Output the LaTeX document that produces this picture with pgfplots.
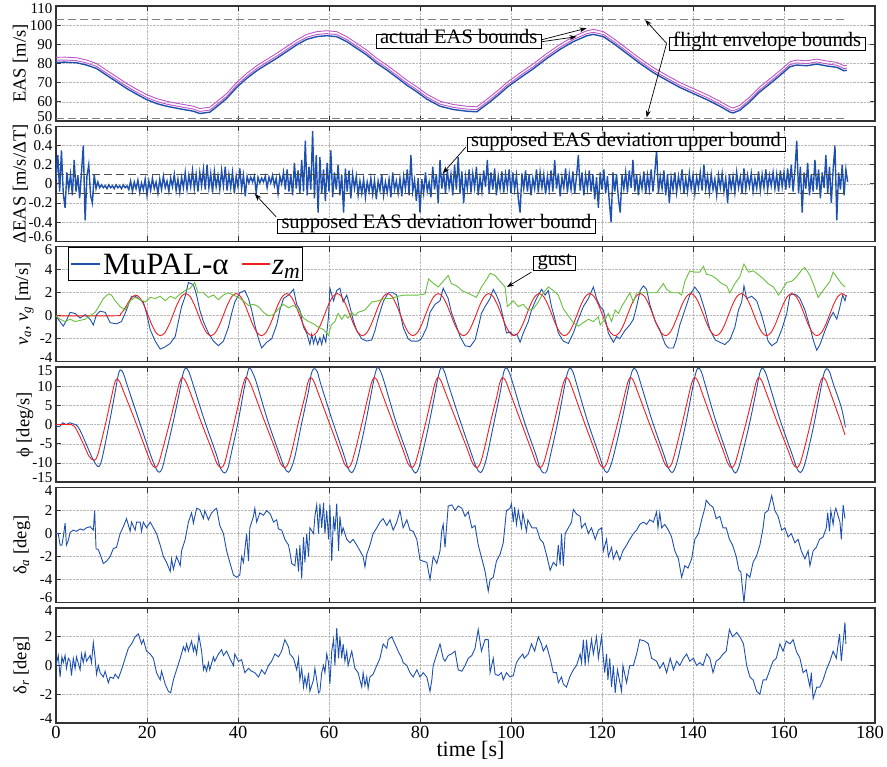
\documentclass[border=0pt]{standalone}
\usepackage{fontspec}
\setmainfont{Liberation Serif}
\usepackage{pgfplots}
\usepackage{pgfplotstable}
\pgfplotsset{compat=1.18}
\usetikzlibrary{arrows.meta}
\definecolor{mblue}{RGB}{30,80,175}
\definecolor{mred}{RGB}{240,30,30}
\definecolor{mgreen}{RGB}{105,190,60}
\definecolor{mmag}{RGB}{190,85,200}
\newcommand{\fs}[1]{\fontsize{#1}{#1}\selectfont}
\newcommand{\dn}[1]{\raisebox{-3pt}[\height][\depth]{#1}}
\newcommand{\up}[1]{\raisebox{4.5pt}[\height][\depth]{#1}}

\pgfplotstableread{
t eas lo hi
0 80.6 81.7 83.2
2 80.7 81.8 83.3
4.5 80.4 81.5 83.0
6.7 79.2 80.3 81.8
8.9 77.4 78.5 80.0
11.1 73.9 75.0 76.5
13.3 70.5 71.6 73.1
15.5 67.0 68.1 69.6
17.7 64.0 65.1 66.6
19.9 61.2 62.3 63.8
22.1 59.1 60.2 61.7
24.3 57.7 58.8 60.3
27.3 56.3 57.4 58.9
30.2 55.1 56.2 57.7
31.6 53.9 55.0 56.5
33.8 54.6 55.7 57.2
35.3 57.4 58.5 60.0
37.5 61.7 62.8 64.3
39.7 67.5 68.6 70.1
41.9 72.2 73.3 74.8
44.1 76.2 77.3 78.8
46.3 79.5 80.6 82.1
48.5 82.7 83.8 85.3
50.7 86.2 87.3 88.8
52.9 89.7 90.8 92.3
55.1 92.6 93.7 95.2
57.3 94.0 95.1 96.6
59.5 94.5 95.6 97.1
61.7 94.0 95.1 96.6
63.9 91.4 92.5 94.0
66.1 87.9 89.0 90.5
68.3 84.4 85.5 87.0
70.5 80.1 81.2 82.7
72.7 76.6 77.7 79.2
74.9 72.7 73.8 75.3
77.1 68.7 69.8 71.3
79.3 65.2 66.3 67.8
81.5 61.4 62.5 64.0
84.4 57.7 58.8 60.3
87.3 56.0 57.1 58.6
90.3 55.1 56.2 57.7
92.5 54.8 55.9 57.4
95.4 60.0 61.1 62.6
97.6 64.3 65.4 66.9
99.1 67.5 68.6 70.1
102 72.5 73.6 75.1
105 77.4 78.5 80.0
107.8 82.5 83.6 85.1
110.8 87.4 88.5 90.0
113.7 91.4 92.5 94.0
116.6 94.4 95.5 97.0
118.1 95.2 96.3 97.8
120.3 94.0 95.1 96.6
122.5 90.5 91.6 93.1
125.4 85.3 86.4 87.9
128.3 80.1 81.2 82.7
131.3 75.2 76.3 77.8
134.2 71.3 72.4 73.9
137.1 67.5 68.6 70.1
140.1 64.3 65.4 66.9
143 61.2 62.3 63.8
145.9 57.7 58.8 60.3
148.1 54.7 55.8 57.3
148.8 54.2 55.3 56.8
150.3 55.6 56.7 58.2
152.5 60.0 61.1 62.6
154.7 65.2 66.3 67.8
157 69.6 70.7 72.2
159.2 73.9 75.0 76.5
161.3 78.3 79.4 80.9
162.8 79.2 80.3 81.8
165 78.8 79.9 81.4
167.2 79.7 80.8 82.3
169.4 78.7 79.8 81.3
171.6 78.0 79.1 80.6
173.2 76.2 77.3 78.8
173.8 76.5 77.6 79.1
}\easdata

\tikzset{
  ann/.style={draw=black, fill=white, line width=0.8pt, font=\fs{20.5}, inner xsep=4pt, inner ysep=2.5pt, text height=0.68em, text depth=0.2em},
  arr/.style={-{Stealth[length=7pt,width=5pt]}, line width=0.7pt, black},
}
\pgfplotsset{
  panel/.style={
    scale only axis, width=819pt, height=115pt,
    xmin=0, xmax=180, xtick={0,20,...,180}, xticklabels={},
    tick pos=both, tick align=inside, major tick length=5pt,
    grid=major, major grid style={gray!55, densely dotted, line width=0.6pt},
    axis line style={black!80, line width=1.4pt},
    every tick/.style={black!80, line width=0.8pt},
    yticklabel style={font=\fs{15}, inner ysep=0pt},
    /pgf/number format/assume math mode=true,
  },
  ylab/.style={ylabel style={at={(axis description cs:#1,0.5)}, anchor=center, font=\fs{18.5}}},
}

\begin{document}
\begin{tikzpicture}
\useasboundingbox (0,0) rectangle (887pt,767pt);

% ---------------- Panel 1: EAS
\begin{axis}[panel, at={(56pt,646pt)}, anchor=south west,
  ymin=50, ymax=110, ytick={50,60,...,110},
  yticklabels={\up{50},60,70,80,90,100,\dn{110}},
  ylab=-0.0433, ylabel={EAS [m/s]}]
\addplot[gray, line width=1.1pt, dash pattern=on 8pt off 4pt] coordinates {(0,102.8) (173.6,102.8)};
\addplot[gray, line width=1.1pt, dash pattern=on 8pt off 4pt] coordinates {(0,51.5) (173.6,51.5)};
\addplot[mmag, line width=0.9pt] table[x=t, y=hi] {\easdata};
\addplot[mmag, line width=0.9pt] table[x=t, y=lo] {\easdata};
\addplot[mblue, line width=1.4pt] table[x=t, y=eas] {\easdata};
\node[ann] at (axis cs:88.5,91.5) {actual EAS bounds};
\draw[arr] (axis cs:106.6,92.3) -- (axis cs:116.6,98.4);
\draw[arr] (axis cs:106.6,91.3) -- (axis cs:114.4,94.0);
\node[ann] at (axis cs:156.3,90.2) {flight envelope bounds};
\draw[arr] (axis cs:134.2,90.5) -- (axis cs:129.5,102.7);
\draw[arr] (axis cs:134.2,90.5) -- (axis cs:129.8,51.9);
\end{axis}

% ---------------- Panel 2: Delta EAS
\begin{axis}[panel, at={(56pt,525.6pt)}, anchor=south west,
  ymin=-0.6, ymax=0.6, ytick={-0.6,-0.4,...,0.61},
  yticklabels={\up{-0.6},-0.4,-0.2,0,0.2,0.4,\dn{0.6}},
  ylab=-0.0433, ylabel={ΔEAS [m/s/ΔT]}]
\addplot[mblue, line width=1.4pt] coordinates {
(0,0.05)(0.4,0.30)(0.8,-0.08)(1.2,0.35)(1.6,-0.10)(2.0,-0.25)(2.4,0.12)(2.8,-0.06)(3.2,0.10)(3.6,-0.12)
(4.0,0.25)(4.4,-0.08)(4.8,0.09)(5.2,-0.15)(5.6,0.12)(6.0,0.40)(6.4,-0.38)(6.8,0.08)(7.2,0.20)(7.6,-0.12)
(8.0,-0.20)(8.4,0.10)(8.8,-0.05)(9.2,0.02)(9.6,-0.04)(10.0,-0.01)(10.4,-0.04)(10.8,-0.02)(11.2,-0.05)(11.6,-0.01)
(12.0,-0.04)(12.4,-0.02)(12.8,-0.05)(13.2,-0.01)(13.6,-0.04)(14.0,-0.02)(14.4,-0.05)(14.8,-0.01)(15.2,-0.04)(15.6,-0.02)
(16.0,-0.06)(16.4,0.03)(16.8,-0.08)(17.2,0.02)(17.6,-0.05)(18.0,0.04)(18.4,-0.09)(18.8,0.01)(19.2,-0.06)(19.6,0.05)
(20.0,-0.12)(20.4,0.03)(20.8,-0.07)(21.2,0.06)(21.6,-0.05)(22.0,0.02)(22.4,-0.10)(22.8,0.05)(23.2,-0.06)(23.6,0.08)
(24.0,-0.04)(24.4,0.03)(24.8,-0.08)(25.2,0.06)(25.6,-0.03)(26.0,0.10)(26.4,-0.07)(26.8,0.05)(27.2,-0.09)(27.6,0.07)
(28.0,-0.04)(28.4,0.12)(28.8,-0.06)(29.2,0.09)(29.6,-0.03)(30.0,0.14)(30.4,-0.05)(30.8,0.10)(31.2,-0.08)(31.6,0.12)
(32.0,-0.02)(32.4,0.15)(32.8,-0.06)(33.2,0.20)(33.6,-0.04)(34.0,0.11)(34.4,-0.09)(34.8,0.13)(35.2,-0.03)(35.6,0.09)
(36.0,-0.06)(36.4,0.14)(36.8,-0.02)(37.2,0.18)(37.6,-0.07)(38.0,0.10)(38.4,-0.04)(38.8,0.12)(39.2,-0.10)(39.6,0.08)
(40.0,-0.03)(40.4,0.16)(40.8,-0.05)(41.2,0.09)(41.6,-0.13)(42.0,0.08)(42.4,0.01)(42.8,0.07)(43.2,0.02)(43.6,0.08)
(44.0,-0.09)(44.4,0.07)(44.8,0.01)(45.2,0.06)(45.6,0.02)(46.0,0.08)(46.4,-0.04)(46.8,0.07)(47.2,0.01)(47.6,0.09)
(48.0,-0.02)(48.4,0.06)(48.8,-0.10)(49.2,0.08)(49.6,0.00)(50.0,0.12)(50.4,-0.06)(50.8,0.15)(51.2,-0.08)(51.6,0.10)
(52.0,-0.12)(52.4,0.22)(52.8,-0.05)(53.2,0.14)(53.6,-0.10)(54.0,0.25)(54.4,-0.08)(54.8,0.45)(55.2,-0.12)(55.6,0.18)
(56.0,-0.06)(56.4,0.55)(56.8,-0.15)(57.2,0.30)(57.6,-0.30)(58.0,0.28)(58.4,-0.10)(58.8,0.15)(59.2,-0.18)(59.6,0.22)
(60.0,-0.08)(60.4,0.35)(60.8,-0.14)(61.2,0.12)(61.6,-0.06)(62.0,0.20)(62.4,-0.12)(62.8,0.10)(63.2,-0.30)(63.6,0.16)
(64.0,-0.08)(64.4,0.14)(64.8,-0.15)(65.2,0.10)(65.6,-0.05)(66.0,0.08)(66.4,-0.12)(66.8,0.03)(67.2,-0.10)(67.6,0.05)
(68.0,-0.14)(68.4,0.02)(68.8,-0.08)(69.2,0.06)(69.6,-0.11)(70.0,0.04)(70.4,-0.16)(70.8,0.03)(71.2,-0.07)(71.6,0.10)
(72.0,-0.12)(72.4,0.02)(72.8,-0.09)(73.2,0.05)(73.6,-0.14)(74.0,0.12)(74.4,-0.06)(74.8,0.03)(75.2,-0.10)(75.6,0.06)
(76.0,-0.13)(76.4,0.08)(76.8,-0.05)(77.2,0.15)(77.6,-0.12)(78.0,0.30)(78.4,-0.08)(78.8,0.04)(79.2,-0.18)(79.6,0.06)
(80.0,-0.30)(80.4,0.05)(80.8,-0.10)(81.2,0.12)(81.6,-0.08)(82.0,0.02)(82.4,-0.14)(82.8,0.18)(83.2,-0.06)(83.6,0.10)
(84.0,-0.20)(84.4,0.25)(84.8,-0.05)(85.2,0.12)(85.6,-0.10)(86.0,0.15)(86.4,-0.04)(86.8,0.10)(87.2,-0.12)(87.6,0.20)
(88.0,-0.06)(88.4,0.28)(88.8,-0.10)(89.2,0.13)(89.6,-0.20)(90.0,0.08)(90.4,-0.05)(90.8,0.15)(91.2,-0.09)(91.6,0.11)
(92.0,-0.04)(92.4,0.18)(92.8,-0.12)(93.2,0.07)(93.6,-0.08)(94.0,0.14)(94.4,-0.03)(94.8,0.25)(95.2,-0.10)(95.6,0.12)
(96.0,-0.06)(96.4,0.16)(96.8,-0.12)(97.2,0.08)(97.6,-0.05)(98.0,0.13)(98.4,-0.09)(98.8,0.10)(99.2,-0.04)(99.6,0.15)
(100.0,-0.10)(100.4,0.12)(100.8,-0.06)(101.2,0.09)(101.6,-0.15)(102.0,-0.30)(102.4,0.11)(102.8,-0.05)(103.2,0.14)(103.6,-0.08)
(104.0,0.10)(104.4,-0.12)(104.8,0.06)(105.2,-0.05)(105.6,0.15)(106.0,-0.09)(106.4,0.12)(106.8,-0.04)(107.2,0.10)(107.6,-0.11)
(108.0,0.08)(108.4,-0.06)(108.8,0.14)(109.2,-0.08)(109.6,0.25)(110.0,-0.05)(110.4,0.11)(110.8,-0.13)(111.2,0.07)(111.6,-0.04)
(112.0,0.16)(112.4,-0.09)(112.8,0.10)(113.2,-0.06)(113.6,0.13)(114.0,-0.10)(114.4,0.08)(114.8,0.30)(115.2,-0.07)(115.6,0.12)
(116.0,-0.12)(116.4,0.09)(116.8,-0.05)(117.2,0.14)(117.6,-0.08)(118.0,0.10)(118.4,-0.16)(118.8,0.07)(119.2,-0.25)(119.6,0.12)
(120.0,-0.06)(120.4,0.15)(120.8,-0.10)(121.2,0.08)(121.6,-0.18)(122.0,-0.40)(122.4,0.12)(122.8,-0.08)(123.2,0.10)(123.6,-0.15)
(124.0,-0.30)(124.4,0.09)(124.8,-0.05)(125.2,0.12)(125.6,-0.09)(126.0,0.14)(126.4,-0.04)(126.8,0.25)(127.2,-0.08)(127.6,0.10)
(128.0,-0.12)(128.4,0.07)(128.8,-0.05)(129.2,0.13)(129.6,-0.10)(130.0,0.09)(130.4,-0.06)(130.8,0.15)(131.2,-0.08)(131.6,0.12)
(132.0,0.35)(132.4,-0.10)(132.8,0.08)(133.2,-0.05)(133.6,0.14)(134.0,-0.12)(134.4,0.10)(134.8,-0.20)(135.2,0.07)(135.6,-0.06)
(136.0,0.12)(136.4,-0.09)(136.8,0.08)(137.2,-0.04)(137.6,0.15)(138.0,-0.10)(138.4,0.06)(138.8,-0.08)(139.2,0.11)(139.6,-0.05)
(140.0,0.09)(140.4,-0.10)(140.8,0.07)(141.2,-0.04)(141.6,0.12)(142.0,-0.07)(142.4,0.20)(142.8,-0.05)(143.2,0.08)(143.6,-0.09)
(144.0,0.10)(144.4,-0.06)(144.8,0.05)(145.2,-0.12)(145.6,0.09)(146.0,-0.04)(146.4,0.11)(146.8,-0.08)(147.2,0.06)(147.6,-0.20)
(148.0,0.10)(148.4,-0.05)(148.8,0.08)(149.2,-0.09)(149.6,0.12)(150.0,-0.04)(150.4,0.07)(150.8,-0.10)(151.2,0.16)(151.6,-0.06)
(152.0,0.09)(152.4,-0.03)(152.8,0.11)(153.2,-0.08)(153.6,0.06)(154.0,-0.05)(154.4,0.13)(154.8,-0.07)(155.2,0.10)(155.6,-0.04)
(156.0,0.15)(156.4,-0.06)(156.8,0.09)(157.2,-0.02)(157.6,0.12)(158.0,-0.05)(158.4,0.10)(158.8,-0.08)(159.2,0.14)(159.6,-0.03)
(160.0,0.12)(160.4,-0.06)(160.8,0.16)(161.2,-0.04)(161.6,0.20)(162.0,-0.08)(162.4,0.14)(162.8,0.45)(163.2,-0.10)(163.6,0.18)
(164.0,-0.30)(164.4,0.12)(164.8,-0.05)(165.2,0.22)(165.6,-0.12)(166.0,0.10)(166.4,-0.08)(166.8,0.25)(167.2,-0.06)(167.6,0.15)
(168.0,-0.15)(168.4,0.12)(168.8,-0.04)(169.2,0.30)(169.6,-0.10)(170.0,0.18)(170.4,-0.20)(170.8,0.15)(171.2,0.40)(171.6,-0.38)
(172.0,0.12)(172.4,-0.06)(172.8,0.20)(173.2,-0.12)(173.6,0.15)(174.0,0.02)};
\addplot[black!70, line width=1.0pt, dash pattern=on 8pt off 4pt] coordinates {(0,0.1) (173.6,0.1)};
\addplot[black!70, line width=1.0pt, dash pattern=on 8pt off 4pt] coordinates {(0,-0.1) (173.6,-0.1)};
\node[ann] at (axis cs:125.3,0.41) {supposed EAS deviation upper bound};
\draw[arr] (axis cs:90.1,0.385) -- (axis cs:85.0,0.11);
\node[ann] at (axis cs:83.6,-0.44) {supposed EAS deviation lower bound};
\draw[arr] (axis cs:48.4,-0.345) -- (axis cs:43.7,-0.105);
\end{axis}

% ---------------- Panel 3: v_a, v_g
\begin{axis}[panel, at={(56pt,405.2pt)}, anchor=south west,
  ymin=-4, ymax=6, ytick={-4,-2,...,6},
  yticklabels={\up{-4},-2,0,2,4,\dn{6}},
  ylab=-0.0385,
  ylabel={\textit{v}\textsubscript{\textit{a}}, \textit{v}\textsubscript{\textit{g}} [m/s]}]
\addplot[mblue, line width=0.9pt] coordinates {
(0,0)(0.5,-0.3)(1.6,-0.9)(2.3,-0.4)(3.1,0.3)(4.2,0.2)(5.3,-0.2)(6.4,0.1)(7.5,-0.3)(8.2,-0.8)(8.9,0.1)(9.7,0.4)(10.8,0.3)(11.9,-0.6)(13.3,-0.7)(14.4,-0.5)(15.5,0.5)(16.6,1.7)(17.4,1.7)(18.1,1.5)(19.2,1.2)(19.9,0.2)(20.7,-1.2)(21.8,-2.2)(22.9,-2.9)(24.0,-2.7)(25.1,-2.4)(26.2,-1.8)(26.9,-0.5)(27.6,0.8)(28.4,1.7)(29.1,2.9)(30.2,2.7)(30.9,1.8)(31.6,0.5)(32.4,-0.5)(33.5,-1.5)(34.6,-2.2)(35.7,-2.6)(36.8,-2.2)(37.9,-1.0)(38.6,0.2)(39.3,1.2)(40.4,2.0)(41.5,2.2)(42.3,1.5)(43.0,0.5)(43.7,-0.8)(44.5,-2.0)(45.2,-2.8)(46.3,-2.3)(47.4,-2.0)(48.5,-0.8)(49.2,0.5)(50.0,1.5)(51.1,1.8)(52.2,2.3)(52.9,1.0)(53.6,0.5)(54.4,-1.0)(55.1,-1.5)(55.8,-2.5)(56.2,-1.6)(56.6,-2.4)(57.0,-1.8)(57.5,-2.5)(58.0,-1.9)(58.4,-2.5)(58.8,-1.7)(59.3,-2.3)(59.6,-1.2)(59.9,0)(60.2,2.4)(61.0,1.3)(61.7,2.2)(62.4,2.4)(63.1,1.2)(63.9,1.8)(64.6,0.8)(65.4,-0.5)(66.1,-1.3)(67.2,-2.0)(68.3,-2.2)(69.4,-2.1)(70.1,-1.3)(70.8,-0.2)(71.9,1.2)(73.0,2.0)(74.1,2.0)(74.9,1.8)(75.6,0.3)(76.3,-1.0)(77.4,-2.0)(78.1,-2.2)(79.6,-2.2)(80.3,-2.0)(81.5,-1.0)(82.2,0.3)(83.3,1.0)(84.4,1.3)(85.1,2.4)(86.2,1.5)(86.9,0.3)(88.1,-1.0)(88.8,-1.8)(89.9,-2.6)(91.0,-2.7)(92.1,-2.1)(92.8,-1.0)(93.5,0.2)(94.3,0.8)(95.4,1.5)(96.1,2.3)(96.8,1.8)(97.6,1.0)(98.3,-0.2)(99.0,-1.5)(99.8,-1.4)(100.5,-1.7)(101.3,-1.6)(102.0,-2.3)(102.7,-1.5)(103.8,-0.5)(104.5,0.5)(105.6,1.5)(106.7,2.3)(107.5,1.8)(108.2,2.2)(108.9,0.8)(109.6,-0.2)(110.4,-1.5)(111.5,-2.2)(112.6,-2.4)(113.7,-1.5)(114.8,-0.3)(115.9,0.8)(117.0,1.5)(118.1,2.5)(118.8,1.5)(119.6,0.8)(120.3,0.5)(121.4,-1.5)(122.5,-2.3)(123.2,-1.8)(123.9,-2.0)(125.0,-1.3)(126.1,-0.8)(126.9,-0.3)(127.6,0.8)(128.4,2.2)(129.1,2.6)(129.8,2.3)(130.5,1.0)(131.7,-0.5)(132.7,-1.2)(133.9,-2.5)(134.6,-2.8)(135.7,-2.8)(136.4,-2.0)(137.1,-0.8)(138.2,0.5)(139.3,1.8)(140.4,2.5)(141.5,1.9)(142.6,0.5)(143.7,-1.2)(144.9,-2.1)(145.9,-2.3)(147.0,-2.5)(148.1,-2.1)(149.2,-1.0)(150.0,0.5)(150.7,1.2)(151.2,2.6)(151.8,1.5)(152.9,1.7)(154.0,1.3)(155.1,0.0)(155.8,-1.0)(156.5,-2.2)(157.3,-2.6)(158.4,-2.3)(159.5,-1.2)(160.6,0.2)(161.3,1.8)(162.1,1.9)(162.8,1.8)(163.5,1.5)(164.6,0.5)(165.7,-1.0)(166.5,-2.2)(167.2,-3.0)(167.9,-2.5)(169.0,-1.3)(170.1,-0.2)(170.8,0.3)(171.6,-0.3)(172.3,0.8)(172.9,1.8)(173.4,1.3)(173.7,1.8)};
\addplot[mred, line width=0.9pt, smooth] coordinates {
(0,0)(13,0)(14.2,0.15)(15.2,0.7)(16.3,1.4)(17.4,1.8)(18.33,1.6)(19.25,1.0)(20.18,0.1)(21.1,-0.82)(22.03,-1.49)(22.95,-1.73)(23.88,-1.49)(24.8,-0.82)(25.73,0.10)(26.65,1.02)(27.58,1.69)
(28.5,1.93)(29.43,1.69)(30.35,1.02)(31.28,0.10)(32.2,-0.82)(33.13,-1.49)(34.05,-1.73)(34.98,-1.49)(35.9,-0.82)(36.83,0.10)(37.75,1.02)(38.68,1.69)
(39.6,1.93)(40.53,1.69)(41.45,1.02)(42.38,0.10)(43.3,-0.82)(44.23,-1.49)(45.15,-1.73)(46.08,-1.49)(47.0,-0.82)(47.93,0.10)(48.85,1.02)(49.78,1.69)
(50.7,1.93)(51.63,1.69)(52.55,1.02)(53.48,0.10)(54.4,-0.82)(55.33,-1.49)(56.25,-1.73)(57.18,-1.49)(58.1,-0.82)(59.03,0.10)(59.95,1.02)(60.88,1.69)
(61.8,1.93)(62.73,1.69)(63.65,1.02)(64.58,0.10)(65.5,-0.82)(66.43,-1.49)(67.35,-1.73)(68.28,-1.49)(69.2,-0.82)(70.13,0.10)(71.05,1.02)(71.98,1.69)
(72.9,1.93)(73.83,1.69)(74.75,1.02)(75.68,0.10)(76.6,-0.82)(77.53,-1.49)(78.45,-1.73)(79.38,-1.49)(80.3,-0.82)(81.23,0.10)(82.15,1.02)(83.08,1.69)
(84.0,1.93)(84.93,1.69)(85.85,1.02)(86.78,0.10)(87.7,-0.82)(88.63,-1.49)(89.55,-1.73)(90.48,-1.49)(91.4,-0.82)(92.33,0.10)(93.25,1.02)(94.18,1.69)
(95.1,1.93)(96.03,1.69)(96.95,1.02)(97.88,0.10)(98.8,-0.82)(99.73,-1.49)(100.65,-1.73)(101.58,-1.49)(102.5,-0.82)(103.43,0.10)(104.35,1.02)(105.28,1.69)
(106.2,1.93)(107.13,1.69)(108.05,1.02)(108.98,0.10)(109.9,-0.82)(110.83,-1.49)(111.75,-1.73)(112.68,-1.49)(113.6,-0.82)(114.53,0.10)(115.45,1.02)(116.38,1.69)
(117.3,1.93)(118.23,1.69)(119.15,1.02)(120.08,0.10)(121.0,-0.82)(121.93,-1.49)(122.85,-1.73)(123.78,-1.49)(124.7,-0.82)(125.63,0.10)(126.55,1.02)(127.48,1.69)
(128.4,1.93)(129.33,1.69)(130.25,1.02)(131.18,0.10)(132.1,-0.82)(133.03,-1.49)(133.95,-1.73)(134.88,-1.49)(135.8,-0.82)(136.73,0.10)(137.65,1.02)(138.58,1.69)
(139.5,1.93)(140.43,1.69)(141.35,1.02)(142.28,0.10)(143.2,-0.82)(144.13,-1.49)(145.05,-1.73)(145.98,-1.49)(146.9,-0.82)(147.83,0.10)(148.75,1.02)(149.68,1.69)
(150.6,1.93)(151.53,1.69)(152.45,1.02)(153.38,0.10)(154.3,-0.82)(155.23,-1.49)(156.15,-1.73)(157.08,-1.49)(158.0,-0.82)(158.93,0.10)(159.85,1.02)(160.78,1.69)
(161.7,1.93)(162.63,1.69)(163.55,1.02)(164.48,0.10)(165.4,-0.82)(166.33,-1.49)(167.25,-1.73)(168.18,-1.49)(169.1,-0.82)(170.03,0.10)(170.95,1.02)(171.88,1.69)
(172.8,1.93)(173.73,1.69)};
\addplot[mgreen, line width=0.9pt] coordinates {
(0,0)(0.9,-0.3)(2.0,-0.5)(3.1,-0.3)(4.2,-0.5)(5.3,-0.4)(6.4,-0.3)(7.5,0)(8.6,0.3)(9.7,1.0)(10.4,1.5)(11.5,1.9)(12.2,1.8)(13.0,1.3)(14.1,0.8)(15.2,0.5)(16.3,1.3)(17.4,1.6)(18.5,1.4)(19.6,1.2)(20.7,1.6)(21.8,1.5)(22.9,1.7)(24.0,1.3)(25.1,1.7)(26.2,1.5)(27.3,1.9)(28.4,2.2)(29.5,2.4)(30.5,2.9)(31.2,2.0)(32.4,2.0)(33.5,1.6)(34.6,1.8)(35.7,1.4)(36.8,1.8)(37.9,2.0)(39.0,1.8)(40.1,1.6)(41.2,1.3)(42.3,0.9)(43.4,1.0)(44.5,0.8)(45.6,0.3)(46.7,0.0)(47.8,0.1)(48.9,0.6)(50.0,1.0)(51.1,0.7)(52.2,0.9)(53.3,0.5)(54.4,-0.2)(55.5,-0.5)(56.6,-0.7)(57.7,-1.0)(58.8,-1.2)(59.9,-1.7)(60.5,-0.8)(61.3,-0.5)(62.0,0.2)(62.8,-0.3)(63.5,0.1)(64.2,-0.2)(65.0,0.3)(65.7,0.0)(66.4,0.3)(67.9,0.5)(69.4,1.2)(70.8,1.3)(72.3,1.5)(73.7,1.5)(75.2,1.7)(76.6,1.8)(78.1,1.8)(79.6,1.8)(81.1,1.9)(81.9,3.2)(83.0,2.8)(84.0,2.5)(85.1,3.0)(86.2,3.5)(86.9,2.8)(88.1,2.6)(89.2,2.2)(90.3,2.0)(91.4,1.8)(92.4,1.6)(93.5,2.5)(94.7,3.2)(95.4,3.7)(96.5,3.5)(97.6,3.0)(98.7,2.5)(99.2,0.8)(100.5,1.3)(101.6,0.8)(102.7,1.0)(103.8,0.5)(104.9,0.6)(106.0,1.2)(107.1,2.0)(108.2,2.5)(109.3,2.2)(110.4,1.8)(111.5,0.6)(112.6,0.0)(113.7,-0.6)(114.8,-0.9)(115.9,-0.6)(117.0,-0.3)(118.1,-0.5)(119.2,-0.1)(119.6,-0.8)(120.7,-0.3)(121.4,0.2)(122.1,-0.5)(122.9,0.5)(123.6,0.2)(124.3,0.8)(125.4,1.5)(126.1,2.0)(126.9,1.2)(127.6,2.0)(129.1,2.0)(130.5,2.0)(132.0,2.0)(133.5,2.8)(134.2,2.3)(135.3,2.0)(136.8,2.0)(137.5,1.8)(138.2,3.0)(139.3,3.9)(140.4,3.8)(141.5,3.8)(142.3,4.3)(143.0,3.6)(144.1,3.5)(145.2,3.2)(146.3,2.8)(147.4,2.6)(148.1,2.0)(149.2,2.8)(150.3,3.4)(151.2,4.5)(152.2,3.8)(153.3,3.9)(154.3,3.6)(155.5,3.2)(156.5,2.8)(157.7,2.5)(158.8,1.8)(159.5,2.2)(160.6,2.9)(161.7,3.0)(162.8,3.4)(163.9,4.0)(164.6,4.2)(165.7,3.5)(166.8,2.4)(167.5,1.6)(168.6,2.2)(170.1,3.0)(170.8,3.8)(171.9,3.2)(172.6,2.8)(173.4,2.5)};
\node[ann] at (axis cs:109.6,4.55) {gust};
\draw[arr] (axis cs:104.5,3.8) -- (axis cs:99.1,2.5);
% legend box (MuPAL-alpha, z_m)
\draw[black, line width=0.8pt, fill=white] (rel axis cs:0.0147,0.995) rectangle (rel axis cs:0.3004,0.711);
\draw[mblue, line width=1.3pt] (rel axis cs:0.0183,0.85) -- (rel axis cs:0.0537,0.85);
\node[anchor=base west, font=\fs{31}, inner sep=0pt] at (rel axis cs:0.0574,0.755) {MuPAL-α};
\draw[mred, line width=1.3pt] (rel axis cs:0.2271,0.85) -- (rel axis cs:0.2613,0.85);
\node[anchor=base west, font=\fs{31}, inner sep=0pt] at (rel axis cs:0.2637,0.755) {\textit{z}\textsubscript{\textit{m}}};
\end{axis}

% ---------------- Panel 4: phi
\begin{axis}[panel, at={(56pt,284.8pt)}, anchor=south west,
  ymin=-15, ymax=15, ytick={-15,-10,...,15},
  yticklabels={\up{-15},-10,-5,0,5,10,\dn{15}},
  ylab=-0.0378, ylabel={ϕ [deg/s]}]
\addplot[mblue, line width=0.9pt, smooth, tension=0.55] coordinates {
(0,-0.3)(0.8,-0.5)(1.5,0.5)(2.2,0.0)(3.0,0.5)(3.8,0.2)(4.4,0.0)(5.3,-1.5)(6.8,-5.5)(8.1,-9.0)(9.2,-10.9)(9.8,-10.2)(10.5,-6.8)(11.7,0.3)(13.0,8.5)(13.6,12.5)(14.1,14.3)
(14.8,13.4)(15.6,10.5)(18.2,1.2)(20.7,-7.6)(21.8,-11.0)(22.6,-12.4)
(23.3,-11.5)(24.1,-7.8)(25.7,0.4)(27.2,8.9)(27.9,13.2)(28.5,14.8)
(29.2,13.8)(30.1,10.6)(32.6,1.2)(35.2,-7.6)(36.2,-11.5)(37.1,-12.6)
(37.8,-11.3)(38.5,-7.6)(39.9,0.0)(41.3,9.1)(42.0,13.0)(42.5,14.9)
(43.2,13.6)(44.1,10.8)(46.6,0.8)(49.2,-8.0)(50.2,-11.2)(51.1,-12.4)
(51.8,-11.0)(52.6,-7.8)(54.0,0.4)(55.5,8.8)(56.1,13.2)(56.7,14.6)
(57.4,13.9)(58.2,10.6)(60.7,1.2)(63.2,-7.6)(64.2,-11.4)(65.0,-12.5)
(65.7,-11.2)(66.5,-7.9)(68.0,0.2)(69.4,8.9)(70.1,13.1)(70.7,15.0)
(71.4,13.7)(72.2,10.9)(74.7,0.8)(77.2,-7.7)(78.2,-11.3)(79.0,-12.6)
(79.7,-11.4)(80.5,-7.7)(82.0,0.3)(83.4,8.8)(84.1,13.0)(84.7,15.0)
(85.4,13.8)(86.2,10.6)(88.8,1.1)(91.4,-7.9)(92.4,-11.2)(93.3,-12.5)
(94.0,-11.2)(94.8,-7.8)(96.2,0.2)(97.7,8.9)(98.3,13.2)(98.9,14.9)
(99.6,13.7)(100.4,10.8)(102.9,0.9)(105.4,-7.6)(106.4,-11.4)(107.2,-12.6)
(107.9,-12.0)(108.7,-7.8)(110.2,0.2)(111.6,9.0)(112.3,13.0)(112.9,14.8)
(113.6,13.8)(114.4,10.7)(116.8,1.0)(119.3,-7.7)(120.3,-11.3)(121.1,-12.5)
(121.8,-11.0)(122.6,-7.8)(124.2,0.3)(125.7,8.9)(126.4,13.1)(127.0,14.7)
(127.7,13.8)(128.5,10.8)(131.0,1.1)(133.6,-7.8)(134.6,-11.3)(135.4,-12.5)
(136.1,-11.2)(136.9,-7.8)(138.4,0.2)(139.8,8.9)(140.5,13.0)(141.1,14.8)
(141.8,13.9)(142.6,10.8)(145.0,1.0)(147.5,-7.8)(148.5,-11.2)(149.3,-12.6)
(150.0,-11.3)(150.8,-7.8)(152.4,0.2)(153.9,8.8)(154.6,13.1)(155.2,14.8)
(155.9,13.7)(156.7,10.8)(159.2,1.0)(161.8,-7.8)(162.8,-11.3)(163.6,-12.5)
(164.3,-11.2)(165.1,-7.8)(166.6,0.2)(168.0,8.9)(168.7,13.0)(169.3,14.6)
(170.0,13.8)(170.8,10.8)(172.6,4.5)(173.5,-0.7)};
\addplot[mred, line width=0.9pt, smooth, tension=0.55] coordinates {
(0,0)(3.4,0)(4.5,-1.3)(6.0,-5.0)(7.3,-8.3)(8.4,-9.3)
(9.0,-8.4)(9.7,-5.6)(10.9,0.3)(12.2,7.3)(12.8,10.5)(13.3,11.9)
(14.0,11.2)(14.8,8.8)(17.4,1.0)(19.9,-7.0)(21.0,-10.2)(21.8,-11.2)
(22.5,-10.2)(23.3,-7.0)(24.9,0.2)(26.4,7.4)(27.1,10.8)(27.7,12.3)
(28.4,11.5)(29.3,9.0)(31.8,1.0)(34.4,-7.0)(35.4,-10.2)(36.3,-11.2)
(37.0,-10.2)(37.7,-7.0)(39.1,0.2)(40.5,7.4)(41.2,10.8)(41.7,12.3)
(42.4,11.5)(43.3,9.0)(45.8,1.0)(48.4,-7.0)(49.4,-10.2)(50.3,-11.2)
(51.0,-10.2)(51.8,-7.0)(53.2,0.2)(54.7,7.4)(55.3,10.8)(55.9,12.3)
(56.6,11.5)(57.4,9.0)(59.9,1.0)(62.4,-7.0)(63.4,-10.2)(64.2,-11.2)
(64.9,-10.2)(65.7,-7.0)(67.2,0.2)(68.6,7.4)(69.3,10.8)(69.9,12.3)
(70.6,11.5)(71.4,9.0)(73.9,1.0)(76.4,-7.0)(77.4,-10.2)(78.2,-11.2)
(78.9,-10.2)(79.7,-7.0)(81.2,0.2)(82.6,7.4)(83.3,10.8)(83.9,12.3)
(84.6,11.5)(85.4,9.0)(88.0,1.0)(90.6,-7.0)(91.6,-10.2)(92.5,-11.2)
(93.2,-10.2)(94.0,-7.0)(95.4,0.2)(96.9,7.4)(97.5,10.8)(98.1,12.3)
(98.8,11.5)(99.6,9.0)(102.1,1.0)(104.6,-7.0)(105.6,-10.2)(106.4,-11.2)
(107.1,-10.2)(107.9,-7.0)(109.4,0.2)(110.8,7.4)(111.5,10.8)(112.1,12.3)
(112.8,11.5)(113.6,9.0)(116.0,1.0)(118.5,-7.0)(119.5,-10.2)(120.3,-11.2)
(121.0,-10.2)(121.8,-7.0)(123.4,0.2)(124.9,7.4)(125.6,10.8)(126.2,12.3)
(126.9,11.5)(127.7,9.0)(130.2,1.0)(132.8,-7.0)(133.8,-10.2)(134.6,-11.2)
(135.3,-10.2)(136.1,-7.0)(137.6,0.2)(139.0,7.4)(139.7,10.8)(140.3,12.3)
(141.0,11.5)(141.8,9.0)(144.2,1.0)(146.7,-7.0)(147.7,-10.2)(148.5,-11.2)
(149.2,-10.2)(150.0,-7.0)(151.6,0.2)(153.1,7.4)(153.8,10.8)(154.4,12.3)
(155.1,11.5)(155.9,9.0)(158.4,1.0)(161.0,-7.0)(162.0,-10.2)(162.8,-11.2)
(163.5,-10.2)(164.3,-7.0)(165.8,0.2)(167.2,7.4)(167.9,10.8)(168.5,12.3)
(169.2,11.5)(170.0,9.0)(172.4,1.0)(173.4,-2.7)};
\end{axis}

% ---------------- Panel 5: delta_a
\begin{axis}[panel, at={(56pt,164.4pt)}, anchor=south west,
  ymin=-6, ymax=4, ytick={-6,-4,...,4},
  yticklabels={\up{-6},-4,-2,0,2,\dn{4}},
  ylab=-0.0415,
  ylabel={δ\textsubscript{\textit{a}} [deg]}]
\addplot[mblue, line width=0.9pt] coordinates {
(0,0)(0.5,0)(0.9,-1.0)(1.3,-1.0)(1.6,-0.3)(2.0,0.9)(2.3,-1.0)(2.7,-0.6)(3.1,0.1)(3.8,0.3)(4.5,0.2)(5.3,0.4)(6.0,0.3)(6.7,0.5)(7.5,0.6)(8.2,0.3)(8.5,2.0)(8.8,-1.3)(9.3,-1.4)(9.7,-1.8)(10.4,-2.6)(11.1,-2.4)(11.9,-2.0)(12.6,-1.3)(13.3,-1.2)(14.1,0.0)(14.8,0.6)(15.5,1.3)(16.3,0.2)(16.6,1.0)(17.4,0.3)(17.7,1.0)(18.5,1.0)(18.8,0.2)(19.2,1.0)(19.9,0.5)(20.7,1.0)(21.4,0.5)(22.1,0.0)(22.9,-1.0)(23.6,-2.0)(24.3,-2.5)(25.1,-3.3)(25.4,-2.2)(25.8,-3.1)(26.5,-2.0)(27.3,-2.8)(27.6,-1.5)(28.4,-0.5)(29.1,1.0)(29.8,1.8)(30.2,0.9)(30.9,2.2)(31.6,2.1)(32.4,1.3)(32.7,2.0)(33.5,1.2)(34.2,1.8)(34.9,2.1)(35.3,2.2)(36.0,0.7)(36.8,0.0)(37.5,-1.5)(38.2,-2.5)(39.0,-3.6)(39.7,-3.8)(40.4,-3.6)(40.8,-2.0)(41.2,-2.5)(41.9,0.0)(42.3,-2.4)(42.6,0.5)(43.4,1.5)(43.7,2.2)(44.1,1.0)(44.8,1.8)(45.6,1.6)(46.3,2.0)(47.1,1.7)(47.8,1.0)(48.5,1.2)(48.9,0.4)(49.6,0.3)(50.3,-0.5)(51.1,-1.0)(51.4,-1.6)(51.8,-2.6)(52.5,-2.8)(52.9,-1.3)(53.3,-3.3)(53.6,-1.0)(54.0,-3.9)(54.4,-0.3)(54.7,-2.5)(55.1,0.0)(55.5,-2.0)(55.8,0.5)(56.6,0.0)(56.9,1.5)(57.3,2.5)(57.7,0.0)(58.0,2.6)(58.4,0.5)(58.8,2.7)(59.1,0.0)(59.5,2.0)(59.9,-0.5)(60.2,2.5)(60.6,-2.4)(61.0,1.5)(61.3,0.2)(61.7,2.6)(62.1,-1.5)(62.4,1.5)(62.8,0.0)(63.1,0.5)(63.9,-0.5)(64.6,-0.8)(65.3,-0.5)(66.1,-1.0)(66.8,-1.5)(67.5,-2.0)(67.9,-2.9)(68.3,-1.8)(69.0,-1.0)(69.7,0.0)(70.5,0.5)(71.2,1.0)(71.9,1.3)(72.7,0.7)(73.4,1.2)(74.1,0.3)(74.9,1.0)(75.6,2.0)(76.3,0.5)(77.1,1.2)(77.8,0.3)(78.5,0.2)(79.3,-0.5)(80.0,-2.3)(80.7,-2.4)(81.5,-2.5)(82.2,-4.0)(82.9,-2.0)(83.7,-2.6)(84.4,-1.5)(84.8,0.3)(85.1,0.8)(85.5,-1.2)(86.2,2.4)(87.0,2.5)(87.7,2.0)(88.4,2.4)(89.2,2.2)(89.9,1.5)(90.6,1.9)(91.4,0.5)(92.1,0.7)(92.8,-1.0)(93.6,-2.2)(94.3,-3.3)(95.0,-5.0)(95.4,-4.0)(96.1,-3.8)(96.8,-2.4)(97.6,-1.8)(98.3,-0.8)(99.0,2.0)(99.8,2.2)(100.1,2.6)(100.5,1.0)(100.8,2.3)(101.2,0.8)(101.6,2.0)(102.3,0.5)(102.6,1.8)(103.4,0.2)(103.7,1.2)(104.6,0.5)(105.6,0.5)(106.4,-0.5)(107.1,-0.8)(107.9,-2.0)(108.6,-3.2)(109.3,-2.5)(110.0,-2.8)(110.4,-1.0)(110.8,-2.7)(111.1,0.0)(111.5,-2.8)(111.9,0.0)(112.6,0.5)(113.3,1.0)(113.7,2.1)(114.4,1.7)(115.2,1.5)(115.5,0.5)(116.3,0.9)(117.0,0.0)(117.7,0.5)(118.5,-0.5)(119.2,0.3)(119.9,0.5)(120.3,-1.5)(121.0,-0.5)(121.4,-2.0)(122.1,-1.2)(122.5,-2.2)(123.2,-1.5)(123.9,-2.3)(124.6,-1.5)(125.4,-1.0)(126.1,-0.5)(126.9,0.0)(127.6,0.3)(128.3,0.8)(129.1,1.0)(129.8,0.8)(130.5,1.2)(131.3,1.0)(132.0,1.9)(132.3,0.5)(132.7,1.8)(133.1,0.5)(133.8,0.8)(134.6,0.3)(135.3,-0.3)(136.0,-1.5)(136.8,-2.2)(137.5,-3.8)(138.2,-2.8)(138.9,-3.0)(139.7,-2.2)(140.4,-0.5)(141.2,0.0)(141.9,1.2)(142.6,2.2)(142.9,2.9)(143.7,2.5)(144.4,2.3)(145.1,1.3)(145.9,1.5)(146.6,0.5)(147.3,0.5)(148.0,-0.5)(148.7,-1.0)(149.5,-2.0)(150.1,-3.2)(150.5,-3.3)(151.2,-6.0)(151.8,-3.5)(152.5,-3.8)(153.2,-2.5)(153.9,-2.0)(154.7,-1.0)(155.4,0.5)(155.8,1.8)(156.5,2.0)(157.3,3.3)(158.0,2.0)(158.7,1.5)(159.5,0.3)(160.2,0.5)(160.9,-0.3)(161.6,0.0)(162.4,-0.8)(163.1,-0.5)(163.8,-1.5)(164.6,-2.2)(165.3,-1.5)(165.7,-2.8)(166.4,-1.5)(167.1,-1.2)(167.8,-0.5)(168.6,-0.3)(169.3,0.5)(169.6,1.8)(170.0,0.2)(170.3,2.0)(170.8,0.8)(171.1,1.8)(171.4,2.2)(172.3,1.0)(172.6,-0.5)(173.0,2.5)(173.4,1.3)};
\end{axis}

% ---------------- Panel 6: delta_r
\begin{axis}[panel, at={(56pt,44pt)}, anchor=south west,
  ymin=-4, ymax=4, ytick={-4,-2,...,4},
  yticklabels={\up{-4},-2,0,2,\dn{4}},
  ylab=-0.0415,
  ylabel={δ\textsubscript{\textit{r}} [deg]},
  xticklabels={0,20,40,60,80,100,120,140,160,{\kern-10pt 180}},
  xticklabel style={font=\fs{18.5}},
  xlabel={time [s]},
  xlabel style={at={(axis description cs:0.5,0)}, anchor=center, yshift=-27pt, xshift=5pt, font=\fs{22}}]
\addplot[mblue, line width=0.9pt] coordinates {
(0,0)(0.5,0.7)(0.9,-0.8)(1.3,0.6)(1.6,0.2)(2.0,0.7)(2.3,-0.2)(2.7,0.5)(3.1,0.3)(3.4,-0.7)(3.8,0.5)(4.2,-0.2)(4.5,0.6)(5.3,-0.3)(5.6,0.8)(6.0,0.2)(6.4,0.9)(6.7,0.3)(7.5,0.7)(7.8,0.2)(8.2,1.6)(8.6,0.5)(8.9,-0.6)(9.3,0.0)(9.7,-0.5)(10.4,-0.8)(10.8,-0.4)(11.5,-1.2)(11.9,-0.8)(12.6,-0.9)(13.0,-0.6)(13.7,-0.9)(14.4,-0.3)(15.2,0.5)(15.9,1.2)(16.6,1.5)(17.4,2.0)(18.1,2.2)(18.8,1.5)(19.2,1.8)(19.9,1.0)(20.7,0.8)(21.4,0.5)(22.1,-0.5)(22.9,-1.0)(23.2,-0.4)(24.0,-1.3)(24.7,-1.8)(25.2,-1.9)(25.8,-1.0)(26.5,-0.3)(27.3,0.5)(28.0,1.3)(28.4,1.0)(28.7,1.5)(29.1,1.0)(29.8,1.7)(30.2,1.0)(30.5,1.4)(30.9,0.8)(31.4,2.1)(32.0,1.0)(32.4,-0.3)(32.7,0.0)(33.1,-0.4)(33.5,0.2)(33.8,-0.3)(34.6,0.6)(34.9,0.3)(35.7,0.8)(36.4,1.1)(36.8,0.7)(37.5,1.0)(38.2,0.5)(39.0,0.0)(39.3,0.8)(40.1,0.3)(40.8,0.4)(41.5,-0.5)(42.3,-0.2)(43.0,-0.4)(43.7,-0.5)(44.5,-0.8)(45.2,-0.3)(45.9,-0.6)(46.7,0.0)(47.4,0.3)(48.1,0.8)(48.9,0.6)(49.6,1.0)(50.3,1.8)(51.1,1.3)(51.4,0.8)(52.2,0.5)(52.9,-0.3)(53.3,0.5)(53.6,-1.0)(54.0,-0.2)(54.4,-1.5)(54.7,-0.8)(55.1,-1.5)(55.5,-0.5)(55.8,-1.8)(56.6,-1.0)(56.9,-0.2)(57.3,-1.0)(57.7,-1.9)(58.0,-1.8)(58.4,-0.5)(58.8,0.0)(59.1,-0.5)(59.5,0.8)(59.9,0.2)(60.2,-1.3)(60.6,1.0)(61.0,1.8)(61.3,0.0)(61.7,2.6)(62.1,0.5)(62.4,2.0)(62.8,0.5)(63.1,1.5)(63.5,0.3)(63.9,1.0)(64.2,0.0)(65.0,1.0)(65.7,-0.2)(66.4,-0.5)(66.8,-1.0)(67.2,-1.5)(67.5,-0.5)(67.9,-1.4)(68.3,-0.8)(68.6,-1.6)(69.0,-0.8)(69.7,-0.6)(70.5,0.0)(71.2,0.5)(71.9,1.5)(72.7,1.2)(73.0,1.8)(73.8,2.0)(74.5,1.5)(75.2,1.0)(76.0,0.5)(76.3,0.2)(77.1,0.0)(77.8,-0.5)(78.5,-0.8)(79.3,-0.3)(80.0,-0.8)(80.7,-0.5)(81.5,-0.8)(82.2,-1.8)(82.6,-1.0)(82.9,0.0)(83.7,0.8)(84.4,1.5)(85.1,0.5)(85.5,0.3)(86.2,0.7)(86.9,0.8)(87.7,1.0)(88.4,-0.3)(89.2,-0.4)(89.9,0.0)(90.6,0.5)(91.4,0.7)(92.1,1.2)(92.8,2.5)(93.5,1.0)(94.3,1.8)(95.0,1.8)(95.4,-0.5)(96.1,0.5)(96.5,-0.6)(97.2,-0.7)(97.9,-0.5)(98.3,-1.0)(99.0,-0.5)(99.8,-0.8)(100.5,-0.7)(101.2,0.2)(101.8,0.5)(102.6,0.8)(102.9,0.5)(103.8,0.8)(104.5,1.5)(105.2,1.0)(106.0,2.0)(106.7,1.5)(107.1,1.0)(107.8,1.4)(108.6,0.5)(109.3,-0.5)(110.0,-0.5)(110.4,-1.2)(111.1,-0.8)(111.5,-1.3)(112.2,-1.5)(112.9,-0.8)(113.7,-0.3)(114.4,0.0)(115.2,0.8)(115.5,0.2)(115.9,1.8)(116.3,0.0)(116.6,1.8)(117.0,0.3)(117.7,1.8)(118.1,0.8)(118.8,2.0)(119.2,0.5)(119.9,2.0)(120.3,0.5)(120.6,-0.5)(121.0,0.8)(121.3,-1.0)(121.7,0.5)(122.1,-1.5)(122.5,0.0)(122.9,-1.9)(123.4,-0.3)(124.3,-1.8)(124.6,0.0)(125.4,-1.2)(126.1,0.0)(126.9,0.0)(127.6,0.8)(128.3,1.8)(129.4,1.7)(130.2,1.5)(130.9,0.5)(132.0,0.3)(132.7,-0.2)(133.5,0.2)(134.2,-0.5)(135.0,0.5)(135.7,-0.3)(136.4,0.3)(137.1,0.0)(137.9,0.5)(138.6,0.8)(139.3,0.3)(140.1,0.5)(140.8,0.0)(141.5,0.2)(142.2,0.0)(143.0,0.8)(143.7,0.5)(144.4,-0.5)(145.1,0.3)(145.9,0.5)(146.6,0.8)(147.3,1.0)(148.0,2.5)(148.7,2.0)(149.6,2.3)(150.3,2.0)(151.1,1.5)(151.8,0.0)(152.5,-0.8)(153.2,-1.0)(154.0,-1.8)(154.7,-2.0)(155.4,-1.0)(156.1,-1.0)(156.9,-0.3)(157.6,0.3)(158.3,0.5)(159.1,1.5)(159.8,1.0)(160.5,1.7)(161.3,1.5)(162.0,1.8)(162.7,1.0)(163.5,0.5)(164.2,-0.5)(164.9,-0.3)(165.7,-1.5)(166.0,-0.5)(166.4,-2.3)(167.2,-1.5)(167.9,-1.5)(168.6,-1.0)(169.3,-0.3)(170.1,0.3)(170.8,1.0)(171.5,0.5)(172.2,2.2)(172.6,0.3)(173.4,3.0)(173.6,1.5)};
\end{axis}
\end{tikzpicture}
\end{document}
